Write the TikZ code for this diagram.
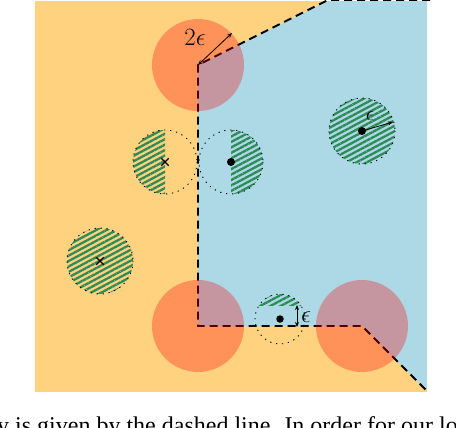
\documentclass[tikz,border=0pt]{standalone}
\usepackage{fontspec}
\newfontfamily\capfont{Liberation Serif}
\usetikzlibrary{patterns.meta,arrows.meta,shapes.misc}
\definecolor{bgorange}{RGB}{255,210,127}
\definecolor{bgblue}{RGB}{173,216,230}
\definecolor{hatchgreen}{RGB}{46,139,87}
\begin{document}
\begin{tikzpicture}[x=1pt,y=-1pt,
  hatch/.style={pattern={Lines[angle=28,distance=4.8pt,line width=2.3pt]},pattern color=hatchgreen},
  dotring/.style={draw=black,line width=0.9pt,dash pattern=on 1.2pt off 4.8pt},
  boundary/.style={draw=black,line width=1.9pt,dash pattern=on 8pt off 5pt},
  redc/.style={circle,fill=red,fill opacity=0.3,minimum size=92pt,inner sep=0pt},
  ptdot/.style={circle,fill=black,minimum size=8pt,inner sep=0pt},
  ptcross/.style={cross out,draw=black,line width=1.3pt,minimum size=6pt,inner sep=0pt},
  epsarrow/.style={line width=0.8pt,{Stealth[length=5pt,width=4pt]}-{Stealth[length=5pt,width=4pt]}},
  lbl/.style={inner sep=0pt}]
\useasboundingbox (0,0) rectangle (456,428);
% regions
\fill[bgorange] (35,1) rectangle (427,392);
\fill[bgblue] (198,65) -- (328,1) -- (427,1) -- (427,391) -- (362,326) -- (198,326) -- cycle;
% centres
\coordinate (hA) at (165,162);
\coordinate (hB) at (231,162);
\coordinate (hC) at (362,131);
\coordinate (hD) at (100,261);
\coordinate (hE) at (280,319);
% hatched discs
\begin{scope}
  \clip (120,120) rectangle (165,210);
  \fill[hatch] (hA) circle[radius=32];
\end{scope}
\draw[dotring] (hA) circle[radius=32];
\begin{scope}
  \clip (231,120) rectangle (280,210);
  \fill[hatch] (hB) circle[radius=32];
\end{scope}
\draw[dotring] (hB) circle[radius=32];
\fill[hatch] (hC) circle[radius=33];
\draw[dotring] (hC) circle[radius=33];
\fill[hatch] (hD) circle[radius=33];
\draw[dotring] (hD) circle[radius=33];
\begin{scope}
  \clip (250,285) rectangle (310,305);
  \fill[hatch] (hE) circle[radius=25];
\end{scope}
\draw[dotring] (hE) circle[radius=25];
% boundary
\coordinate (b0) at (430,0);
\coordinate (b1) at (328,0);
\coordinate (b2) at (198,65);
\coordinate (b3) at (198,326);
\coordinate (b4) at (362,326);
\coordinate (b5) at (427,391);
\draw[boundary] (b0) -- (b1) -- (b2) -- (b3) -- (b4) -- (b5);
% red discs
\node[redc] (r1) at (b2) {};
\node[redc] (r2) at (b3) {};
\node[redc] (r3) at (b4) {};
% points
\node[ptcross] (xA) at (hA) {};
\node[ptdot] (dB) at (hB) {};
\node[ptdot] (dC) at (hC) {};
\node[ptcross] (xD) at (hD) {};
\node[ptdot, minimum size=7.5pt] (dE) at (hE) {};
% arrows
\coordinate (a1) at (232,33);
\draw[epsarrow] (b2) -- (a1);
\node[lbl] (l1) at (195,37) {\fontsize{27}{27}\selectfont$2\epsilon$};
\coordinate (a2) at (393,122);
\draw[line width=0.8pt,-{Stealth[length=5pt,width=4pt]}] (dC.center) -- (a2);
\node[lbl] (l2) at (370,116) {\fontsize{20}{20}\selectfont$\epsilon$};
\coordinate (a3t) at (297,305);
\coordinate (a3b) at (297,327);
\draw[epsarrow] (a3t) -- (a3b);
\node[lbl] (l3) at (306,317) {\fontsize{25}{25}\selectfont$\epsilon$};
% caption fragment
\node[anchor=base west,inner sep=0pt,font=\capfont\fontsize{24}{28}\selectfont] (cap) at (-3,433) {y is given by the dashed line. In order for our local};
\end{tikzpicture}
\end{document}
